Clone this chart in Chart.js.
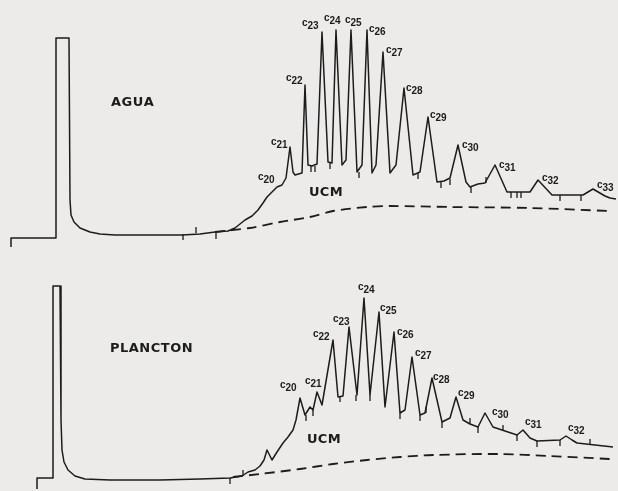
<!DOCTYPE html>
<html>
<head>
<meta charset="utf-8">
<script src="https://cdn.jsdelivr.net/npm/chart.js@4/dist/chart.umd.min.js"></script>
<style>
  body { margin: 0; background: #ecebe9; }
  .panel { position: absolute; left: 0; width: 618px; }
  #top { top: 0; height: 250px; }
  #bottom { top: 250px; height: 241px; }
</style>
</head>
<body>
<div class="panel" id="top"><canvas id="agua"></canvas></div>
<div class="panel" id="bottom"><canvas id="plancton"></canvas></div>
<script>
// retention (chart units) and detector signal

// AGUA
let aguaTime = [11,11,56,56,69,70,71,74,80,90,100,115,150,182,200,215,228,235,240,245,252,258,263,267,272,277,282,286,290,293,295,302,305,308,312,317,322,328,332,336,342,346,351,357,362,367,372,376,383,390,396,404,413,420,428,437,444,450,458,466,470,478,485,495,507,530,538,552,583,593,605,610,616];
let aguaSignal = [3,12,12,212,212,50,35,28,22,18,16,15,15,15,16,18,19,22,26,30,34,40,47,53,58,63,65,72,103,78,75,77,165,85,84,86,218,88,87,220,85,90,220,78,85,220,77,85,198,77,85,162,75,78,133,68,69,72,105,68,63,66,67,85,58,58,70,55,55,61,54,52,51];
let aguaUcmTime = [215,250,280,310,333,367,390,450,530,610];
let aguaUcmSignal = [18,22,28,33,39,43,44,43,42,39];
let aguaTickTime = [183,196,216,311,315,330,359,418,441,450,471,486,511,517,521,560,581];
let aguaTickLevel = [16,17,17,84,84,87,78,77,68,71,63,67,58,58,58,55,55];
let aguaTickDir = [-1,1,-1,-1,-1,-1,-1,-1,-1,-1,-1,1,-1,-1,-1,-1,-1];
let aguaPeaks = ['20','21','22','23','24','25','26','27','28','29','30','31','32','33'];
let aguaPeakLabelX = [258,271,286,302,324,345,369,386,406,430,462,499,542,597];
let aguaPeakLabelY = [70,105,169,224,229,227,218,197,159,132,102,82,69,62];

// PLANCTON
let planctonTime = [37,37,53,53,60,61,62,64,68,75,85,110,160,200,230,242,248,255,260,264,267,272,277,283,288,293,296,300,305,310,313,317,322,333,338,343,349,357,364,370,379,385,394,400,405,412,420,425,432,442,450,456,463,470,478,485,493,505,517,523,530,537,560,566,572,577,595,613];
let planctonSignal = [2,13,13,205,205,71,41,29,21,15,12,11,11,12,13,15,19,21,25,31,41,31,39,48,54,61,71,93,76,84,81,99,86,151,94,95,164,96,193,96,179,84,159,78,81,134,76,78,113,69,73,94,71,67,64,78,64,60,56,61,53,50,51,55,51,48,46,44];
let planctonUcmTime = [233,260,300,333,367,400,433,500,550,610];
let planctonUcmSignal = [14,17,22,27,31,34,36,37,35,32];
let planctonTickTime = [230,243,306,313,340,356,370,400,420,426,442,470,478,503,517,537,560,590];
let planctonTickLevel = [13,15,76,81,95,96,96,78,76,78,69,67,64,60,56,50,51,46];
let planctonTickDir = [-1,1,-1,-1,-1,-1,-1,-1,-1,1,-1,1,-1,1,-1,-1,-1,1];
let planctonPeaks = ['20','21','22','23','24','25','26','27','28','29','30','31','32'];
let planctonPeakLabelX = [280,305,313,333,358,380,397,415,433,458,492,525,568];
let planctonPeakLabelY = [103,107,154,169,201,180,156,135,111,95,76,66,60];

const INK = '#1c1c1c';

function pairs(xs, ys) {
  return xs.map((x, i) => ({x: x, y: ys[i]}));
}

function tickPoints(xs, levels, dirs) {
  let pts = [];
  for (let i = 0; i < xs.length; i++) {
    pts.push({x: xs[i], y: levels[i]});
    pts.push({x: xs[i], y: levels[i] + dirs[i] * 6});
    pts.push({x: xs[i], y: null});
  }
  return pts;
}

function spaced(ctx, text, x, y, gap) {
  for (const ch of text) {
    ctx.fillText(ch, x, y);
    x += ctx.measureText(ch).width + gap;
  }
}

function labelPlugin(title, titleX, titleY, ucmX, ucmY, peaks, px, py) {
  return {
    id: 'labels',
    afterDatasetsDraw(chart) {
      const ctx = chart.ctx;
      const xs = chart.scales.x, ys = chart.scales.y;
      ctx.save();
      ctx.fillStyle = INK;
      ctx.textBaseline = 'alphabetic';
      ctx.font = 'bold 13px "DejaVu Sans"';
      spaced(ctx, title, xs.getPixelForValue(titleX), ys.getPixelForValue(titleY), 0.5);
      spaced(ctx, 'UCM', xs.getPixelForValue(ucmX), ys.getPixelForValue(ucmY), 0.3);
      for (let i = 0; i < peaks.length; i++) {
        const x = xs.getPixelForValue(px[i]);
        const y = ys.getPixelForValue(py[i]);
        ctx.font = 'bold 10px "Liberation Sans"';
        ctx.fillText('c', x, y);
        const w = ctx.measureText('c').width;
        ctx.font = 'bold 10px "Liberation Sans"';
        ctx.fillText(peaks[i], x + w, y + 3);
      }
      ctx.restore();
    }
  };
}

function makeChart(id, time, signal, ucmTime, ucmSignal, tt, tl, td, ymax, plugin) {
  return new Chart(document.getElementById(id), {
    type: 'line',
    data: {
      datasets: [
        {
          data: pairs(time, signal),
          borderColor: INK,
          borderWidth: 1.5,
          pointRadius: 0,
          tension: 0,
          borderJoinStyle: 'round'
        },
        {
          data: pairs(ucmTime, ucmSignal),
          borderColor: INK,
          borderWidth: 1.8,
          borderDash: [10, 6],
          pointRadius: 0,
          tension: 0.3
        },
        {
          data: tickPoints(tt, tl, td),
          borderColor: INK,
          borderWidth: 1.3,
          pointRadius: 0,
          spanGaps: false
        }
      ]
    },
    options: {
      responsive: true,
      maintainAspectRatio: false,
      animation: false,
      layout: { padding: 0 },
      scales: {
        x: { type: 'linear', min: 0, max: 618, display: false },
        y: { min: 0, max: ymax, display: false }
      },
      plugins: { legend: { display: false }, tooltip: { enabled: false } }
    },
    plugins: [plugin]
  });
}

makeChart('agua', aguaTime, aguaSignal, aguaUcmTime, aguaUcmSignal,
  aguaTickTime, aguaTickLevel, aguaTickDir, 250,
  labelPlugin('AGUA', 111, 144, 309, 54, aguaPeaks, aguaPeakLabelX, aguaPeakLabelY));

makeChart('plancton', planctonTime, planctonSignal, planctonUcmTime, planctonUcmSignal,
  planctonTickTime, planctonTickLevel, planctonTickDir, 241,
  labelPlugin('PLANCTON', 110, 139, 307, 48, planctonPeaks, planctonPeakLabelX, planctonPeakLabelY));
</script>
</body>
</html>
